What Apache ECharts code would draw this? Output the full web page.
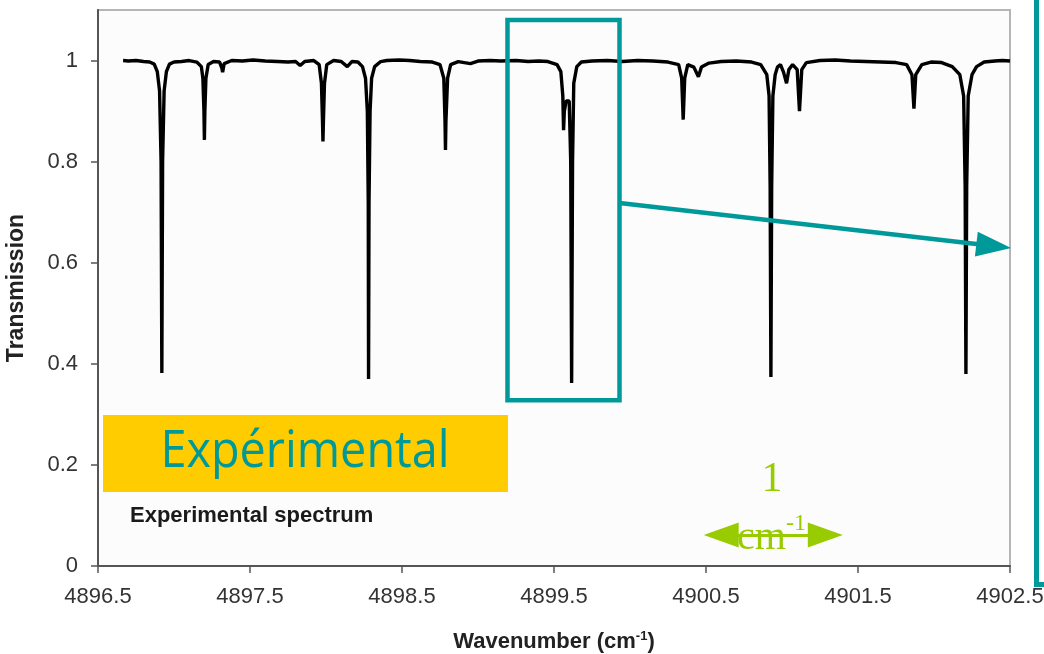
<!DOCTYPE html>
<html>
<head>
<meta charset="utf-8">
<script src="https://cdn.jsdelivr.net/npm/echarts@6/dist/echarts.min.js"></script>
<style>
html,body{margin:0;padding:0;background:#fff;}
#chart{width:1044px;height:654px;}
</style>
</head>
<body>
<div id="chart"></div>
<script>
// ---- data ----
const wavenumber = [
  4896.665, 4896.70, 4896.75, 4896.80, 4896.84, 4896.87, 4896.89, 4896.905, 4896.915, 4896.920, 4896.925, 4896.935, 4896.95, 4896.97,
  4897.00, 4897.05, 4897.10, 4897.15, 4897.18, 4897.19, 4897.197, 4897.200, 4897.203, 4897.21, 4897.225, 4897.26, 4897.30, 4897.315, 4897.320, 4897.33,
  4897.38, 4897.45, 4897.52, 4897.60, 4897.68, 4897.75, 4897.80, 4897.83, 4897.86, 4897.92, 4897.955, 4897.970, 4897.977, 4897.980, 4897.983, 4897.99, 4898.005,
  4898.05, 4898.10, 4898.14, 4898.17, 4898.21, 4898.24, 4898.26, 4898.272, 4898.278, 4898.280, 4898.283, 4898.29, 4898.30, 4898.32, 4898.36,
  4898.40, 4898.48, 4898.55, 4898.62, 4898.70, 4898.75, 4898.775, 4898.783, 4898.786, 4898.789, 4898.80, 4898.82, 4898.87, 4898.95,
  4899.00, 4899.08, 4899.15, 4899.25, 4899.33, 4899.40, 4899.46, 4899.52, 4899.545, 4899.558, 4899.563, 4899.568, 4899.580, 4899.600, 4899.610, 4899.616, 4899.622, 4899.63, 4899.65, 4899.68,
  4899.75, 4899.85, 4899.95, 4900.05, 4900.15, 4900.25, 4900.32, 4900.34, 4900.35, 4900.36, 4900.38, 4900.42, 4900.45, 4900.47, 4900.52,
  4900.60, 4900.70, 4900.80, 4900.86, 4900.90, 4900.915, 4900.922, 4900.927, 4900.932, 4900.94, 4900.955, 4900.97, 4900.99, 4901.01, 4901.03, 4901.045, 4901.07, 4901.10, 4901.115, 4901.13, 4901.16,
  4901.25, 4901.35, 4901.45, 4901.55, 4901.65, 4901.75, 4901.82, 4901.855, 4901.868, 4901.88, 4901.92, 4901.98,
  4902.05, 4902.12, 4902.17, 4902.195, 4902.205, 4902.210, 4902.215, 4902.225, 4902.25, 4902.28, 4902.33, 4902.40, 4902.45, 4902.50
];
const transmission = [
  1.000, 0.999, 1.000, 0.998, 0.997, 0.993, 0.978, 0.940, 0.800, 0.382, 0.800, 0.940, 0.978, 0.993,
  0.997, 0.998, 1.000, 0.997, 0.988, 0.965, 0.900, 0.843, 0.900, 0.965, 0.992, 0.998, 0.997, 0.985, 0.977, 0.994,
  1.000, 0.999, 1.001, 0.999, 0.998, 0.997, 0.998, 0.990, 0.998, 1.000, 0.992, 0.955, 0.880, 0.840, 0.880, 0.955, 0.992,
  1.000, 0.998, 0.988, 0.998, 0.997, 0.988, 0.965, 0.900, 0.720, 0.370, 0.720, 0.900, 0.965, 0.988, 0.998,
  1.000, 1.001, 1.000, 0.998, 0.997, 0.992, 0.965, 0.880, 0.823, 0.880, 0.965, 0.992, 0.998, 0.994,
  0.999, 1.000, 0.999, 1.000, 0.998, 0.999, 0.998, 0.992, 0.978, 0.930, 0.862, 0.900, 0.920, 0.920, 0.800, 0.362, 0.800, 0.955, 0.988, 0.997,
  0.999, 1.000, 0.998, 1.000, 0.999, 0.997, 0.992, 0.965, 0.883, 0.965, 0.992, 0.987, 0.968, 0.987, 0.995,
  0.998, 0.999, 0.997, 0.992, 0.972, 0.930, 0.750, 0.374, 0.750, 0.930, 0.972, 0.987, 0.992, 0.977, 0.955, 0.982, 0.992, 0.982, 0.900, 0.982, 0.996,
  1.000, 1.001, 0.999, 0.998, 0.997, 0.996, 0.992, 0.972, 0.905, 0.972, 0.992, 0.997,
  0.996, 0.988, 0.972, 0.930, 0.750, 0.380, 0.750, 0.930, 0.972, 0.988, 0.997, 0.999, 1.000, 0.999
];
const xTicks = [4896.5, 4897.5, 4898.5, 4899.5, 4900.5, 4901.5, 4902.5];
const yTicks = [0, 0.2, 0.4, 0.6, 0.8, 1];

// annotation anchors (data coordinates)
const zoomBox = [[4899.194, 1.080], [4899.931, 0.328]];
const tealArrow = [[4899.931, 0.718], [4902.393, 0.633]];
const scaleArrow = [[4900.600, 0.0613], [4901.285, 0.0613]];

const chart = echarts.init(document.getElementById('chart'), null, {renderer: 'canvas'});
const TEAL = '#009999';
const GREEN = '#99cc00';

chart.setOption({
  animation: false,
  backgroundColor: '#fff',
  grid: {left: 98, right: 34, top: 10, bottom: 88, outerBoundsMode: 'none', containLabel: false,
    show: true, borderColor: '#b5b5b5', borderWidth: 2, backgroundColor: '#fcfcfc'},
  xAxis: {
    type: 'value', min: 4896.5, max: 4902.5,
    name: 'Wavenumber (cm{sup|-1})', nameLocation: 'middle', nameGap: 64,
    nameTextStyle: {fontFamily: 'Liberation Sans', fontWeight: 'bold', fontSize: 22, color: '#222',
      rich: {sup: {fontFamily: 'Liberation Sans', fontWeight: 'bold', fontSize: 13, color: '#222', verticalAlign: 'top', padding: [0, 0, 10, 0]}}},
    axisLine: {show: true, lineStyle: {color: '#555', width: 2}},
    axisTick: {show: true, length: 7, customValues: xTicks, lineStyle: {color: '#555', width: 1.5}},
    axisLabel: {customValues: xTicks, margin: 20, fontFamily: 'Liberation Sans', fontSize: 22, color: '#333',
      formatter: v => v.toFixed(1)},
    splitLine: {show: false}
  },
  yAxis: {
    type: 'value', min: 0, max: 1.1,
    name: 'Transmission', nameLocation: 'middle', nameGap: 70, nameRotate: 90,
    nameTextStyle: {fontFamily: 'Liberation Sans', fontWeight: 'bold', fontSize: 23, color: '#222'},
    axisLine: {show: true, lineStyle: {color: '#555', width: 2}},
    axisTick: {show: true, length: 7, customValues: yTicks, lineStyle: {color: '#555', width: 1.5}},
    axisLabel: {customValues: yTicks, margin: 20, fontFamily: 'Liberation Sans', fontSize: 22, color: '#333',
      formatter: v => String(Math.round(v * 10) / 10)},
    splitLine: {show: false}
  },
  series: [{
    type: 'line',
    data: wavenumber.map((w, i) => [w, transmission[i]]),
    showSymbol: false,
    sampling: null,
    lineStyle: {color: '#000', width: 3.4},
    z: 2,
    markArea: {
      silent: true,
      z: 5,
      itemStyle: {color: 'rgba(0,0,0,0)', borderColor: TEAL, borderWidth: 4.5},
      data: [[{coord: zoomBox[0]}, {coord: zoomBox[1]}]]
    },
    markLine: {
      silent: true,
      z: 6,
      symbol: ['none', 'triangle'],
      symbolSize: [25, 35],
      label: {show: false},
      emphasis: {disabled: true},
      data: [
        [{coord: tealArrow[0], lineStyle: {color: TEAL, width: 4.5, type: 'solid'}, symbol: 'none'},
         {coord: tealArrow[1], symbol: 'triangle', itemStyle: {color: TEAL}}],
        [{coord: scaleArrow[0], lineStyle: {color: GREEN, width: 3, type: 'solid'}, symbol: 'triangle', itemStyle: {color: GREEN}},
         {coord: scaleArrow[1], symbol: 'triangle', itemStyle: {color: GREEN}}]
      ]
    }
  }],
  graphic: [
    {type: 'rect', left: 103, top: 415, shape: {width: 405, height: 77}, style: {fill: '#ffcc00'}, z: 10},
    {type: 'text', x: 305, y: 452, scaleX: 0.9, originX: 0, z: 11,
      style: {text: 'Expérimental', fontFamily: 'Open Sans', fontSize: 52, fill: TEAL, align: 'center', verticalAlign: 'middle'}},
    {type: 'text', left: 130, top: 505, z: 11,
      style: {text: 'Experimental spectrum', fontFamily: 'Liberation Sans', fontWeight: 'bold', fontSize: 22, fill: '#1a1a1a'}},
    {type: 'text', x: 772, y: 480, z: 11,
      style: {text: '1', fontFamily: 'Liberation Serif', fontSize: 42, fill: GREEN, align: 'center', verticalAlign: 'middle'}},
    {type: 'text', x: 737, y: 538, z: 11,
      style: {text: 'cm', fontFamily: 'Liberation Serif', fontSize: 40, fill: GREEN, align: 'left', verticalAlign: 'middle'}},
    {type: 'text', x: 786, y: 524, z: 11,
      style: {text: '-1', fontFamily: 'Liberation Serif', fontSize: 24, fill: GREEN, align: 'left', verticalAlign: 'middle'}},
    {type: 'rect', left: 1034, top: -10, shape: {width: 120, height: 592}, style: {fill: 'none', stroke: TEAL, lineWidth: 5}, z: 10}
  ]
});
</script>
</body>
</html>
